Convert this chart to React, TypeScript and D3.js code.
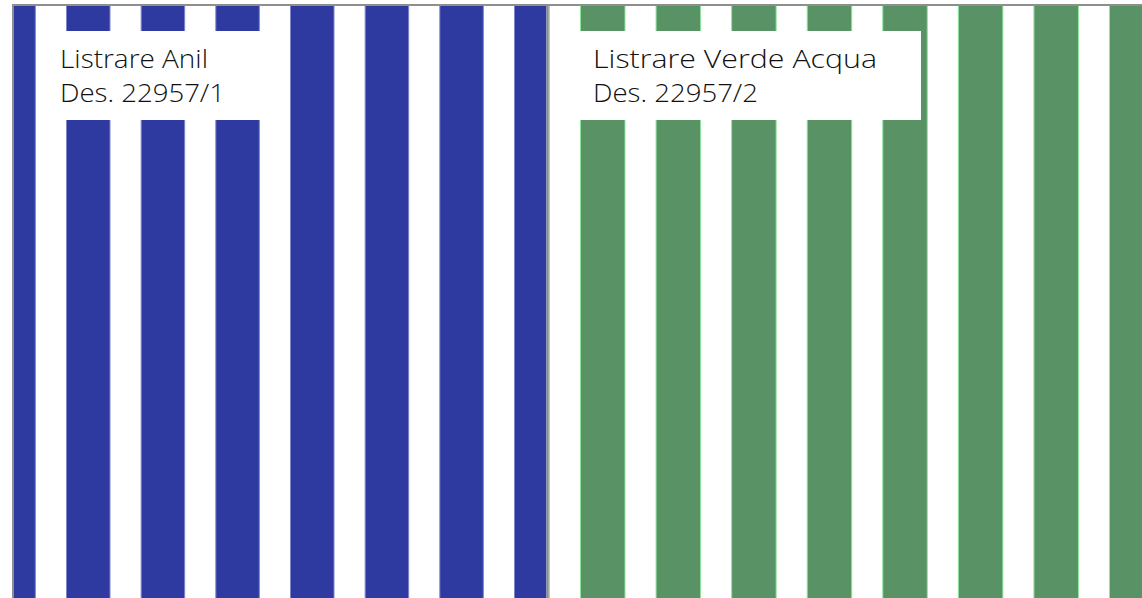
import React from "react";
import * as d3 from "d3";

const W = 1142;
const H = 598;

// Panels (each a striped swatch)
const panelNames = ["Listrare Anil", "Listrare Verde Acqua"];
const panelCodes = ["Des. 22957/1", "Des. 22957/2"];
const panelColors = ["#2e3a9f", "#599265"];
const panelEdgeColors = ["#7c84cc", "#8fe59d"];
// stripe indices drawn in each panel
const leftStripes = [-1, 0, 1, 2, 3, 4, 5, 6];
const rightStripes = [-1, 0, 1, 2, 3, 4, 5, 6, 7];

export default function App() {
  const top = 5;
  const left = 13;
  const divider = 547.5;

  // scales mapping stripe index -> x position
  const xLeft = d3.scaleLinear().domain([0, 6]).range([66, 514]);
  const xRight = d3.scaleLinear().domain([0, 7]).range([580, 1109]);
  const stripeW = [44.5, 45.5];

  const panels = [
    { x0: left + 1, x1: divider - 1, stripes: leftStripes, scale: xLeft, box: [38, 288], textX: 60, w1: 148, w2: 165 },
    { x0: divider + 1, x1: W, stripes: rightStripes, scale: xRight, box: [575, 921], textX: 593, w1: 284, w2: 165 },
  ];

  const font = "'Open Sans', 'Noto Sans', sans-serif";

  return (
    <svg width={W} height={H} style={{ position: "absolute", left: 0, top: 0, background: "#fff" }}>
      <defs>
        {panels.map((p, i) => (
          <clipPath id={`clip${i}`} key={i}>
            <rect x={p.x0} y={top + 1} width={p.x1 - p.x0} height={H - top} />
          </clipPath>
        ))}
      </defs>
      {panels.map((p, i) => (
        <g key={i} clipPath={`url(#clip${i})`}>
          {p.stripes.map((s) => (
            <rect
              key={s}
              x={p.scale(s) + 0.5}
              y={top}
              width={stripeW[i] - 1}
              height={H}
              fill={panelColors[i]}
              stroke={panelEdgeColors[i]}
              strokeWidth={1}
            />
          ))}
          <rect x={p.box[0]} y={31} width={p.box[1] - p.box[0]} height={89} fill="#fff" />
          <text
            x={p.textX}
            y={68}
            fontFamily={font}
            fontWeight={300}
            fontSize={26}
            fill="#111"
            textLength={p.w1}
            lengthAdjust="spacingAndGlyphs"
          >
            {panelNames[i]}
          </text>
          <text
            x={p.textX}
            y={102}
            fontFamily={font}
            fontWeight={300}
            fontSize={26}
            fill="#111"
            textLength={p.w2}
            lengthAdjust="spacingAndGlyphs"
          >
            {panelCodes[i]}
          </text>
        </g>
      ))}
      {/* frame */}
      <line x1={left - 1} x2={W} y1={top} y2={top} stroke="#8e8e8e" strokeWidth={2} />
      <line x1={left} x2={left} y1={top - 1} y2={H} stroke="#8e8e8e" strokeWidth={2} />
      <line x1={divider} x2={divider} y1={top - 1} y2={H} stroke="#8e8e8e" strokeWidth={2} />
    </svg>
  );
}
